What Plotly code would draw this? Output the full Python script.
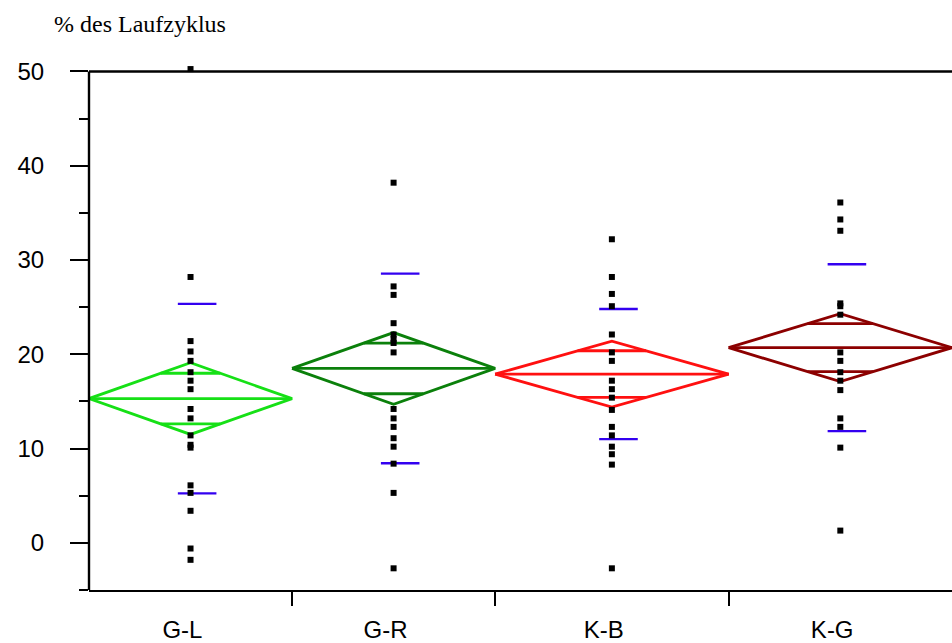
import math
import plotly.graph_objects as go

# ---------------- data ----------------
categories = ["G-L", "G-R", "K-B", "K-G"]
group_n = [20, 20, 23, 22]
means = [15.3, 18.5, 17.9, 20.7]
ci_half = [3.8, 3.8, 3.5, 3.6]
std_dev = [10.05, 10.05, 6.9, 8.85]
points_GL = [50.25, 28.2, 21.4, 20.3, 19.3, 18.1, 17.2, 16.3, 14.2, 13.2, 11.4, 10.4, 10.1, 6.1, 5.3, 3.4, -0.6, -1.8]
points_GR = [38.2, 27.2, 26.3, 23.3, 22.1, 21.6, 21.2, 20.2, 14.2, 13.2, 12.3, 11.1, 10.2, 8.4, 5.3, -2.7]
points_KB = [32.2, 28.2, 26.4, 25.1, 22.1, 20.2, 19.3, 17.2, 16.3, 15.4, 14.1, 12.3, 11.4, 10.2, 9.4, 8.3, -2.7]
points_KG = [36.1, 34.3, 33.1, 25.4, 25.1, 24.2, 20.2, 19.3, 18.1, 17.2, 16.2, 13.2, 12.3, 10.1, 1.3]
group_points = [points_GL, points_GR, points_KB, points_KG]
y_ticks = [0, 10, 20, 30, 40, 50]
y_min, y_max = -5, 50
y_title = "% des Laufzyklus"

# ---------------- styles ----------------
diamond_colors = ["#16e016", "#0b800b", "#ff1010", "#8c0000"]
sd_color = "#3300f0"

# group boundaries from sample sizes
bounds = [0]
for n in group_n:
    bounds.append(bounds[-1] + n)
centers = [(bounds[i] + bounds[i + 1]) / 2 for i in range(len(group_n))]
total = bounds[-1]

fig = go.Figure()

for i, cat in enumerate(categories):
    left, right, c = bounds[i], bounds[i + 1], centers[i]
    m, h = means[i], ci_half[i]
    half_w = (right - left) / 2
    ov = h / math.sqrt(2)
    ov_w = half_w * (1 - ov / h)
    xs = [left, c, right, c, left, None, left, right, None,
          c - ov_w, c + ov_w, None, c - ov_w, c + ov_w]
    ys = [m, m + h, m, m - h, m, None, m, m, None,
          m + ov, m + ov, None, m - ov, m - ov]
    fig.add_trace(go.Scatter(x=xs, y=ys, mode="lines",
                             line=dict(color=diamond_colors[i], width=2.8),
                             hoverinfo="skip", showlegend=False))
    sd = std_dev[i]
    fig.add_trace(go.Scatter(x=[c - 1.25, c + 2.55, None, c - 1.25, c + 2.55],
                             y=[m + sd, m + sd, None, m - sd, m - sd],
                             mode="lines", line=dict(color=sd_color, width=2.4),
                             hoverinfo="skip", showlegend=False))

for i, pts in enumerate(group_points):
    fig.add_trace(go.Scatter(x=[centers[i]] * len(pts), y=pts, mode="markers",
                             marker=dict(symbol="square", size=6, color="black"),
                             cliponaxis=False, showlegend=False))

# invisible trace for label axis
fig.add_trace(go.Scatter(x=centers, y=means, xaxis="x2", mode="markers",
                         marker=dict(opacity=0), hoverinfo="skip", showlegend=False))

x_range = [0, total]
fig.update_layout(
    width=952, height=643,
    margin=dict(l=89, r=0, t=62, b=53),
    paper_bgcolor="white", plot_bgcolor="white",
    font=dict(family="Liberation Sans, Arial, sans-serif", color="black"),
    xaxis=dict(range=x_range, tickvals=bounds[1:-1], showticklabels=False,
               ticks="outside", ticklen=14, tickwidth=2, tickcolor="black",
               showline=True, linecolor="black", linewidth=2,
               showgrid=False, zeroline=False),
    xaxis2=dict(range=x_range, overlaying="x", side="bottom", anchor="y",
                tickvals=[c - 0.8 for c in centers], ticktext=categories,
                ticks="", showline=False, showgrid=False, zeroline=False,
                tickfont=dict(size=24), ticklabelstandoff=23),
    yaxis=dict(range=[y_min, y_max + 1], tickvals=y_ticks, ticks="outside", ticklen=18,
               tickwidth=2, tickcolor="black", showline=False,
               showgrid=False, zeroline=False,
               tickfont=dict(size=24), ticklabelstandoff=21,
               minor=dict(tickvals=[-5, 5, 15, 25, 35, 45], ticks="outside", ticklen=9,
                          tickwidth=2, tickcolor="black", showgrid=False)),
    shapes=[
        dict(type="line", xref="paper", yref="y", x0=0, x1=1, y0=y_max, y1=y_max,
             line=dict(color="black", width=2.4)),
        dict(type="line", xref="paper", yref="y", x0=0, x1=0, y0=y_min, y1=y_max,
             line=dict(color="black", width=2.4)),
    ],
    annotations=[dict(text=y_title, xref="paper", yref="paper",
                      x=-37 / 863, y=1 + 38 / 528, xanchor="left", yanchor="middle",
                      showarrow=False,
                      font=dict(family="Liberation Serif, Times New Roman, serif",
                                size=24, color="black"))],
)

fig.write_html("out.html")
